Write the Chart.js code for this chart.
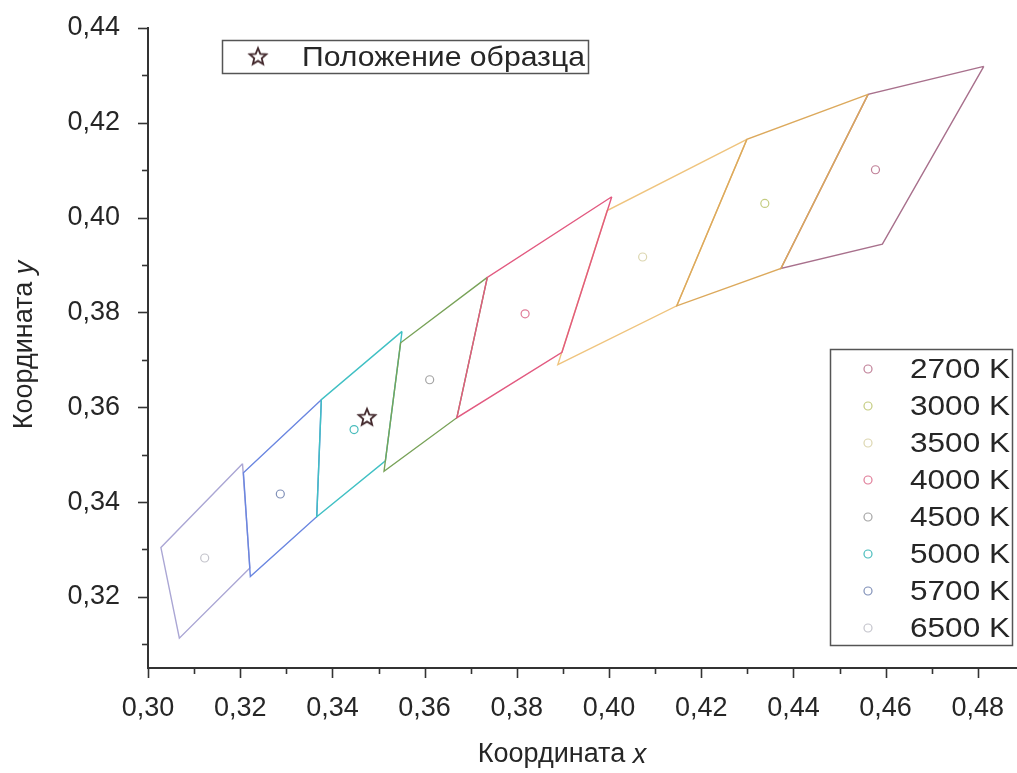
<!DOCTYPE html>
<html><head><meta charset="utf-8">
<script src="https://cdn.jsdelivr.net/npm/chart.js@4.4.0/dist/chart.umd.min.js"></script>
<style>html,body{margin:0;padding:0;background:#fff;}#wrap{width:1017px;height:773px;position:relative;}</style>
</head><body><div id="wrap"><canvas id="c" width="1017" height="773"></canvas></div>
<script>
const cctLabels = ['2700 K','3000 K','3500 K','4000 K','4500 K','5000 K','5700 K','6500 K'];
const centerX = [0.4578,0.4338,0.4073,0.3818,0.3611,0.3447,0.3287,0.3123];
const centerY = [0.4101,0.4030,0.3917,0.3797,0.3658,0.3553,0.3417,0.3282];
const cornerX = [
 [0.4813,0.4562,0.4373,0.4593],
 [0.4562,0.4299,0.4147,0.4373],
 [0.4299,0.3996,0.3889,0.4147],
 [0.4006,0.3736,0.3670,0.3898],
 [0.3736,0.3548,0.3512,0.3670],
 [0.3551,0.3376,0.3366,0.3515],
 [0.3376,0.3207,0.3222,0.3366],
 [0.3205,0.3028,0.3068,0.3221]];
const cornerY = [
 [0.4319,0.4260,0.3893,0.3944],
 [0.4260,0.4165,0.3814,0.3893],
 [0.4165,0.4015,0.3690,0.3814],
 [0.4044,0.3874,0.3578,0.3716],
 [0.3874,0.3736,0.3465,0.3578],
 [0.3760,0.3616,0.3369,0.3487],
 [0.3616,0.3462,0.3243,0.3369],
 [0.3481,0.3304,0.3113,0.3261]];
const sampleLabel = 'Положение образца';
const sampleX = [0.3475];
const sampleY = [0.3579];
const xTitle = 'Координата ', xTitleVar = 'x';
const yTitle = 'Координата ', yTitleVar = 'y';

const quadColors = ['#a8708c','#dca95c','#efc47e','#e25a80','#78a258','#40c0c4','#6a86e0','#aaa6d4'];
const centerColors = ['#c08098','#c4cc80','#dcd6b0','#e07c98','#a4a4a4','#48bcbc','#8090b8','#c4c4cc'];
const drawOrder = [8,6,7,1,2,3,4,5];
const FONT = '"Liberation Sans", Arial, sans-serif';
const TXT = '#262626';

function starCanvas(){
  const c=document.createElement('canvas'); c.width=24; c.height=24;
  const g=c.getContext('2d'); g.strokeStyle='#42282c'; g.lineWidth=1.8; g.lineJoin='miter';
  g.beginPath();
  for(let i=0;i<10;i++){const r=i%2?3.9:8.8; const a=-Math.PI/2+i*Math.PI/5; const px=12+r*Math.cos(a), py=12.5+r*Math.sin(a); i?g.lineTo(px,py):g.moveTo(px,py);}
  g.closePath(); g.stroke(); return c;
}
const STAR = starCanvas();

const datasets = [];
cctLabels.forEach((lab,i)=>{
  const pts = cornerX[i].map((x,k)=>({x, y:cornerY[i][k]}));
  pts.push({x:cornerX[i][0], y:cornerY[i][0]});
  datasets.push({label:lab+' quad', data:pts, showLine:true, borderColor:quadColors[i], borderWidth:1.4, pointRadius:0, fill:false, tension:0, order:drawOrder[i]});
});
cctLabels.forEach((lab,i)=>{
  datasets.push({label:lab, data:[{x:centerX[i], y:centerY[i]}], showLine:false, pointStyle:'circle', pointRadius:4, borderWidth:1.2, borderColor:centerColors[i], backgroundColor:'rgba(0,0,0,0)', order:0});
});
datasets.push({label:sampleLabel, data:sampleX.map((x,k)=>({x,y:sampleY[k]})), pointStyle:STAR, pointRadius:10, order:-1});

function textW(ctx, t, x, y, font, targetW){
  ctx.font = font;
  const w = ctx.measureText(t).width;
  const sx = targetW ? targetW / w : 1;
  ctx.save(); ctx.translate(x, y); ctx.scale(sx, 1); ctx.fillText(t, 0, 0); ctx.restore();
  return w * sx;
}

const decor = {
  id:'decor',
  afterDraw(chart){
    const ctx=chart.ctx, xs=chart.scales.x, ys=chart.scales.y, a=chart.chartArea;
    ctx.save();
    ctx.strokeStyle='#333'; ctx.lineWidth=1.6;
    ys.ticks.forEach(t=>{const major=Math.round(t.value*100)%2===0; const p=Math.round(ys.getPixelForValue(t.value))+0.5; ctx.beginPath(); ctx.moveTo(a.left,p); ctx.lineTo(a.left-(major?10:6),p); ctx.stroke();});
    xs.ticks.forEach(t=>{const major=Math.round(t.value*100)%2===0; const p=Math.round(xs.getPixelForValue(t.value))+0.5; ctx.beginPath(); ctx.moveTo(p,a.bottom); ctx.lineTo(p,a.bottom+(major?10:6)); ctx.stroke();});
    // axis titles
    ctx.fillStyle=TXT; ctx.textBaseline='middle'; ctx.textAlign='left';
    const fN='27px '+FONT, fI='italic 27px '+FONT;
    ctx.font=fN; const w1=ctx.measureText(xTitle).width; ctx.font=fI; const w2=ctx.measureText(xTitleVar).width;
    let sx=562-(w1+w2)/2;
    ctx.font=fN; ctx.fillText(xTitle, sx, 755);
    ctx.font=fI; ctx.fillText(xTitleVar, sx+w1, 755);
    ctx.save(); ctx.translate(25, 345); ctx.rotate(-Math.PI/2);
    ctx.font=fN; const v1=ctx.measureText(yTitle).width; ctx.font=fI; const v2=ctx.measureText(yTitleVar).width;
    ctx.font=fN; ctx.fillText(yTitle, -(v1+v2)/2, 0);
    ctx.font=fI; ctx.fillText(yTitleVar, -(v1+v2)/2+v1, 0);
    ctx.restore();
    // top legend
    ctx.strokeStyle='#555'; ctx.lineWidth=1.5;
    ctx.strokeRect(222.5,40.5,366,33);
    ctx.drawImage(STAR, 258-12, 57-12.5);
    ctx.fillStyle=TXT;
    textW(ctx, sampleLabel, 302, 58, '28px '+FONT, 283);
    // right legend
    ctx.strokeStyle='#555'; ctx.lineWidth=1.5;
    ctx.strokeRect(830.5,349.5,182,296);
    cctLabels.forEach((lab,i)=>{
      const y=369+37*i;
      ctx.beginPath(); ctx.arc(868,y,4,0,Math.PI*2); ctx.strokeStyle=centerColors[i]; ctx.lineWidth=1.2; ctx.stroke();
      ctx.fillStyle=TXT; textW(ctx, lab, 910, y+1, '28px '+FONT, 100);
    });
    ctx.restore();
  }
};

const fmt = v => { const r=Math.round(v*100); return r%2===0 ? v.toFixed(2).replace('.', ',') : ''; };

new Chart(document.getElementById('c'), {
  type:'scatter',
  data:{datasets},
  options:{
    responsive:false, animation:false, devicePixelRatio:1,
    layout:{autoPadding:false, padding:{top:28,right:0,left:0,bottom:0}},
    plugins:{legend:{display:false}, tooltip:{enabled:false}},
    scales:{
      x:{type:'linear', min:0.30, max:0.4885,
        grid:{display:false}, border:{display:true,color:'#333',width:2},
        ticks:{stepSize:0.01, includeBounds:false, autoSkip:false, maxRotation:0, padding:16, color:TXT, font:{family:FONT,size:27}, callback:fmt},
        afterFit:s=>{s.height=105; s.paddingLeft=0; s.paddingRight=0;}},
      y:{type:'linear', min:0.305, max:0.44,
        grid:{display:false}, border:{display:true,color:'#333',width:2},
        ticks:{stepSize:0.01, includeBounds:false, autoSkip:false, padding:20, color:TXT, font:{family:FONT,size:27}, callback:fmt},
        afterFit:s=>{s.width=148; s.paddingTop=0; s.paddingBottom=0;}}
    }
  },
  plugins:[decor]
});
</script></body></html>
